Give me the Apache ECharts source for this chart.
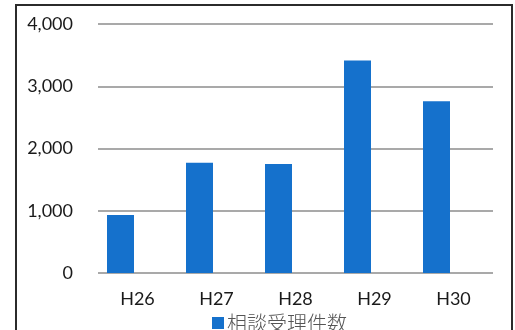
<!DOCTYPE html>
<html>
<head>
<meta charset="utf-8">
<script src="https://cdn.jsdelivr.net/npm/echarts@6/dist/echarts.min.js"></script>
<style>
  html, body { margin: 0; padding: 0; background: #ffffff; }
  #chart { width: 515px; height: 330px; }
</style>
</head>
<body>
<div id="chart"></div>
<script>
// Fiscal years (Heisei era) and consultation counts
const categories = ['H26', 'H27', 'H28', 'H29', 'H30'];
const consultCounts = [930, 1770, 1750, 3415, 2760];
const seriesName = '相談受理件数';
const yTicks = [0, 1000, 2000, 3000, 4000];

const barColor = '#1571cc';
const gridTop = 24;
const gridBottom = 57;

const chart = echarts.init(document.getElementById('chart'), null, { renderer: 'canvas' });

chart.setOption({
  animation: false,
  backgroundColor: '#ffffff',
  textStyle: { fontFamily: 'Lato, "Noto Sans CJK JP", sans-serif' },
  grid: [
    // axis frame: gridlines, tick labels and category labels
    { left: 98, right: 22, top: gridTop, bottom: gridBottom },
    // bar plot area
    { left: 81, right: 39, top: gridTop, bottom: gridBottom }
  ],
  xAxis: [
    {
      gridIndex: 0,
      type: 'category',
      data: categories,
      axisLine: { show: false },
      axisTick: { show: false },
      axisLabel: { color: '#1a1a1a', fontSize: 18, margin: 17 }
    },
    {
      gridIndex: 1,
      type: 'category',
      data: categories,
      axisLine: { show: false },
      axisTick: { show: false },
      axisLabel: { show: false }
    }
  ],
  yAxis: [
    {
      gridIndex: 0,
      type: 'value',
      min: yTicks[0],
      max: yTicks[yTicks.length - 1],
      interval: 1000,
      axisLine: { show: false },
      axisTick: { show: false },
      axisLabel: {
        color: '#1a1a1a',
        fontSize: 18,
        margin: 25,
        formatter: v => v.toLocaleString('en-US')
      },
      splitLine: { lineStyle: { color: '#8c8c8c', width: 1.5 } }
    },
    {
      gridIndex: 1,
      type: 'value',
      min: yTicks[0],
      max: yTicks[yTicks.length - 1],
      interval: 1000,
      show: false,
      splitLine: { show: false }
    }
  ],
  legend: {
    data: [seriesName],
    left: 207,
    top: 308,
    itemWidth: 12,
    itemHeight: 12,
    itemGap: 6,
    icon: 'rect',
    textStyle: {
      fontFamily: '"Noto Sans CJK JP", sans-serif',
      fontSize: 20,
      fontWeight: 300,
      color: '#555555',
      padding: [0, 0, 0, -2]
    }
  },
  series: [
    {
      name: seriesName,
      type: 'bar',
      xAxisIndex: 1,
      yAxisIndex: 1,
      data: consultCounts,
      barWidth: 27,
      itemStyle: { color: barColor }
    }
  ],
  graphic: [
    {
      type: 'rect',
      shape: { x: 16, y: 5, width: 496, height: 340 },
      style: { fill: 'none', stroke: '#2b2b2b', lineWidth: 2 },
      silent: true,
      z: 100
    }
  ]
});
</script>
</body>
</html>
